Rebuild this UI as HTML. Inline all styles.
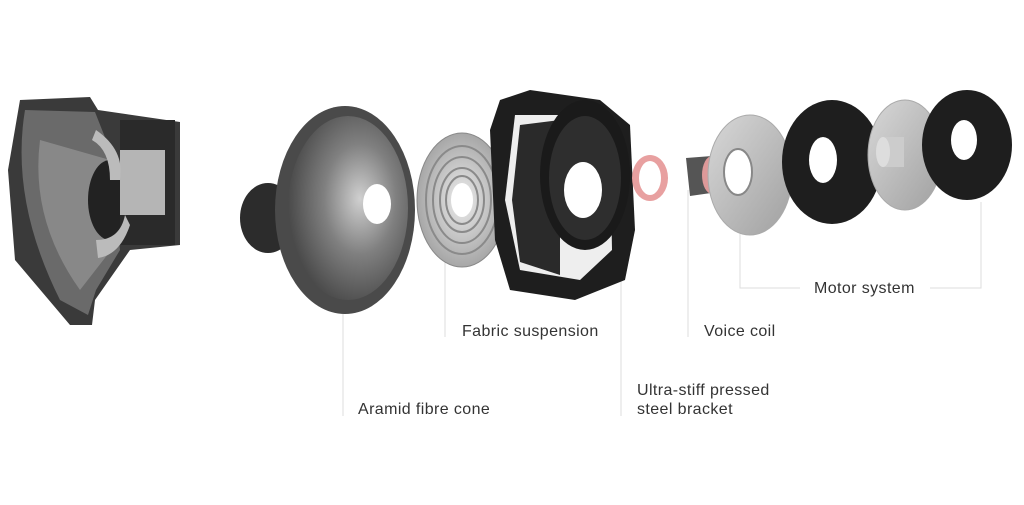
<!DOCTYPE html>
<html><head><meta charset="utf-8"><style>
html,body{margin:0;padding:0;background:#fff;}
svg{display:block}
text{font-family:"Liberation Sans",sans-serif;font-size:16px;letter-spacing:0.4px;fill:#333}
</style></head><body>
<svg width="1024" height="505" viewBox="0 0 1024 505">
<defs>
<radialGradient id="cone" cx="0.6" cy="0.45" r="0.6"><stop offset="0" stop-color="#d0d0d0"/><stop offset="0.5" stop-color="#808080"/><stop offset="1" stop-color="#4a4a4a"/></radialGradient>
<radialGradient id="spider" cx="0.5" cy="0.5" r="0.55"><stop offset="0" stop-color="#ececec"/><stop offset="1" stop-color="#a0a0a0"/></radialGradient>
<linearGradient id="plate" x1="0" y1="0" x2="1" y2="1"><stop offset="0" stop-color="#d8d8d8"/><stop offset="1" stop-color="#a0a0a0"/></linearGradient>
</defs>
<g stroke="#ddd" stroke-width="1" fill="none">
<line x1="343" y1="297" x2="343" y2="416"/>
<line x1="445" y1="255" x2="445" y2="337"/>
<line x1="621" y1="252" x2="621" y2="416"/>
<line x1="688" y1="190" x2="688" y2="337"/>
<polyline points="740,232 740,288 800,288"/>
<polyline points="930,288 981,288 981,202"/>
</g>
<!-- left cutaway -->
<path d="M20,100 L90,97 L98,110 L180,122 L180,245 L130,250 L95,300 L92,325 L70,325 L15,260 L8,170 Z" fill="#3a3a3a"/>
<path d="M25,110 Q10,200 60,300 L88,315 L96,290 L120,250 L110,150 L95,112 Z" fill="#6a6a6a"/>
<path d="M40,140 Q30,220 80,290 L115,245 L110,160 Z" fill="#888"/>
<ellipse cx="110" cy="200" rx="22" ry="40" fill="#222"/>
<rect x="120" y="120" width="55" height="125" fill="#2a2a2a"/>
<rect x="120" y="150" width="45" height="65" fill="#b5b5b5"/>
<path d="M96,130 Q125,150 120,180 L110,180 Q110,150 92,140 Z" fill="#bbb"/>
<path d="M96,240 Q120,240 125,215 L130,225 Q120,255 98,258 Z" fill="#bbb"/>
<!-- dust cap -->
<ellipse cx="268" cy="218" rx="28" ry="35" fill="#2c2c2c"/>
<!-- cone -->
<ellipse cx="345" cy="210" rx="70" ry="104" fill="#4a4a4a"/>
<ellipse cx="348" cy="208" rx="60" ry="92" fill="url(#cone)"/>
<ellipse cx="377" cy="204" rx="14" ry="20" fill="#fff"/>
<!-- spider -->
<ellipse cx="462" cy="200" rx="45" ry="67" fill="url(#spider)" stroke="#888"/>
<g fill="none" stroke="#8a8a8a" stroke-width="2">
<ellipse cx="462" cy="200" rx="36" ry="54"/><ellipse cx="462" cy="200" rx="29" ry="43"/><ellipse cx="462" cy="200" rx="22" ry="32"/><ellipse cx="462" cy="200" rx="16" ry="24"/></g>
<ellipse cx="462" cy="200" rx="11" ry="17" fill="#fff"/>
<!-- bracket -->
<path d="M500,100 L530,90 L600,100 L630,125 L635,230 L625,280 L575,300 L510,290 L495,240 L490,130 Z" fill="#1e1e1e"/>
<path d="M515,115 L590,115 L610,140 L612,250 L580,280 L520,270 L505,200 Z" fill="#eee"/>
<path d="M520,125 L560,120 L560,275 L520,262 L512,200 Z" fill="#2a2a2a"/>
<ellipse cx="585" cy="175" rx="45" ry="75" fill="#1a1a1a"/>
<ellipse cx="585" cy="178" rx="36" ry="62" fill="#2e2e2e"/>
<ellipse cx="583" cy="190" rx="19" ry="28" fill="#fff"/>
<!-- voice coil -->
<ellipse cx="650" cy="178" rx="18" ry="23" fill="#e8a0a0"/>
<ellipse cx="650" cy="178" rx="11" ry="17" fill="#fff"/>
<path d="M686,158 L712,156 L718,192 L690,196 Z" fill="#555"/>
<ellipse cx="712" cy="175" rx="10" ry="19" fill="#d99"/>
<!-- top plate -->
<ellipse cx="750" cy="175" rx="42" ry="60" fill="url(#plate)" stroke="#aaa"/>
<ellipse cx="738" cy="172" rx="14" ry="23" fill="#fff" stroke="#888" stroke-width="2"/>
<!-- magnet 1 -->
<ellipse cx="832" cy="162" rx="50" ry="62" fill="#1e1e1e"/>
<ellipse cx="823" cy="160" rx="14" ry="23" fill="#fff"/>
<!-- pole plate -->
<ellipse cx="905" cy="155" rx="37" ry="55" fill="url(#plate)" stroke="#aaa"/>
<rect x="882" y="137" width="22" height="30" fill="#ccc"/>
<ellipse cx="883" cy="152" rx="7" ry="15" fill="#ddd"/>
<!-- magnet 2 -->
<ellipse cx="967" cy="145" rx="45" ry="55" fill="#1e1e1e"/>
<ellipse cx="964" cy="140" rx="13" ry="20" fill="#fff"/>
<!-- labels -->
<text x="814" y="293">Motor system</text>
<text x="462" y="336">Fabric suspension</text>
<text x="704" y="336">Voice coil</text>
<text x="637" y="395">Ultra-stiff pressed</text>
<text x="637" y="414">steel bracket</text>
<text x="358" y="414">Aramid fibre cone</text>
</svg>
</body></html>
